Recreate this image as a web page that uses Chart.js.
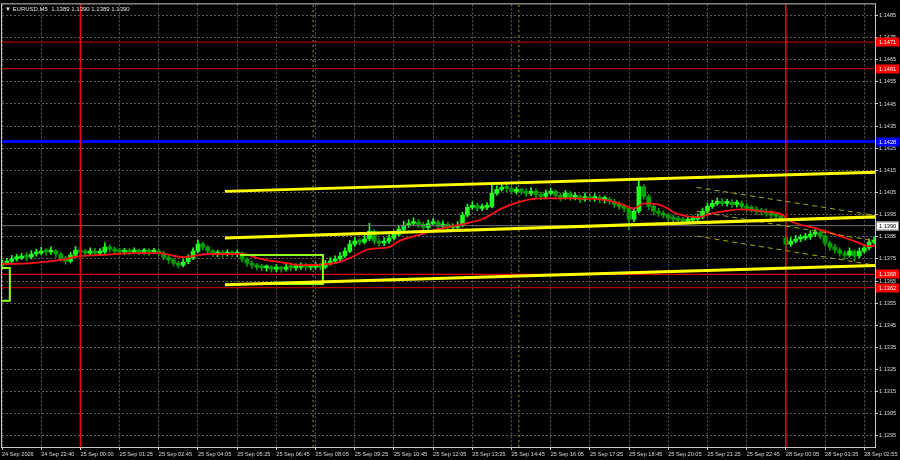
<!DOCTYPE html>
<html>
<head>
<meta charset="utf-8">
<script src="https://cdn.jsdelivr.net/npm/chart.js@4.4.1/dist/chart.umd.min.js"></script>
<style>
  html, body { margin: 0; padding: 0; background: #000; }
  #wrap { width: 900px; height: 460px; }
</style>
</head>
<body>
<div id="wrap"><canvas id="chart"></canvas></div>
<script>
// header line of the terminal window
const symbolTitle = '\u25BC EURUSD,M5  1.1389 1.1390 1.1389 1.1390';

// time axis (one slot = 10 min, a label every 8 slots)
const timeLabels = ['24 Sep 2026', '24 Sep 22:40', '25 Sep 00:00', '25 Sep 01:25', '25 Sep 02:45',
    '25 Sep 04:05', '25 Sep 05:25', '25 Sep 06:45', '25 Sep 08:05', '25 Sep 09:25', '25 Sep 10:45',
    '25 Sep 12:05', '25 Sep 13:25', '25 Sep 14:45', '25 Sep 16:05', '25 Sep 17:25', '25 Sep 18:45',
    '25 Sep 20:05', '25 Sep 21:25', '25 Sep 22:45', '28 Sep 00:05', '28 Sep 01:35', '28 Sep 02:55'];
const tickSlots = [0, 8, 16, 24, 32, 40, 48, 56, 64, 72, 80, 88, 96, 104, 112, 120, 128, 136, 144, 152, 160, 168, 176];

const priceTicks = [1.1295, 1.1305, 1.1315, 1.1325, 1.1335, 1.1345, 1.1355, 1.1365, 1.1375, 1.1385,
    1.1395, 1.1405, 1.1415, 1.1425, 1.1435, 1.1445, 1.1455, 1.1465, 1.1475, 1.1485];

// candles
const closes = [
    1.13731, 1.13740, 1.13750, 1.13754, 1.13763, 1.13758, 1.13772, 1.13776, 1.13785, 1.13781,
    1.13785, 1.13772, 1.13754, 1.13740, 1.13767, 1.13790, 1.13781, 1.13776, 1.13785, 1.13776,
    1.13781, 1.13803, 1.13794, 1.13785, 1.13781, 1.13785, 1.13781, 1.13785, 1.13781, 1.13785,
    1.13781, 1.13785, 1.13776, 1.13758, 1.13745, 1.13731, 1.13722, 1.13736, 1.13754, 1.13785,
    1.13817, 1.13803, 1.13785, 1.13772, 1.13776, 1.13772, 1.13776, 1.13772, 1.13776, 1.13749,
    1.13731, 1.13722, 1.13713, 1.13709, 1.13709, 1.13704, 1.13709, 1.13704, 1.13713, 1.13709,
    1.13713, 1.13718, 1.13713, 1.13713, 1.13718, 1.13713, 1.13731, 1.13740, 1.13750, 1.13763,
    1.13785, 1.13817, 1.13830, 1.13826, 1.13840, 1.13875, 1.13830, 1.13821, 1.13830, 1.13844,
    1.13861, 1.13883, 1.13901, 1.13910, 1.13915, 1.13906, 1.13892, 1.13910, 1.13915, 1.13898,
    1.13906, 1.13892, 1.13892, 1.13901, 1.13947, 1.13983, 1.13992, 1.13978, 1.13983, 1.13987,
    1.14046, 1.14064, 1.14073, 1.14068, 1.14055, 1.14059, 1.14055, 1.14046, 1.14055, 1.14041,
    1.14032, 1.14046, 1.14055, 1.14037, 1.14028, 1.14046, 1.14028, 1.14032, 1.14019, 1.14032,
    1.14023, 1.14028, 1.14019, 1.14019, 1.14010, 1.13996, 1.13987, 1.13978, 1.13929, 1.13965,
    1.14077, 1.14032, 1.13987, 1.13965, 1.13956, 1.13947, 1.13934, 1.13929, 1.13925, 1.13920,
    1.13925, 1.13929, 1.13938, 1.13965, 1.13987, 1.14001, 1.14010, 1.14001, 1.14005, 1.13996,
    1.14001, 1.13987, 1.13978, 1.13974, 1.13965, 1.13961, 1.13956, 1.13947, 1.13943, 1.13934,
    1.13815, 1.13830, 1.13840, 1.13844, 1.13849, 1.13862, 1.13866, 1.13853, 1.13821, 1.13803,
    1.13790, 1.13776, 1.13767, 1.13785, 1.13763, 1.13785, 1.13799, 1.13826, 1.13835
];
const highs = [
    1.13745, 1.13752, 1.13766, 1.13770, 1.13775, 1.13778, 1.13788, 1.13794, 1.13802, 1.13796,
    1.13804, 1.13792, 1.13780, 1.13762, 1.13780, 1.13806, 1.13802, 1.13794, 1.13800, 1.13798,
    1.13796, 1.13822, 1.13814, 1.13804, 1.13798, 1.13798, 1.13796, 1.13800, 1.13794, 1.13798,
    1.13796, 1.13798, 1.13794, 1.13784, 1.13766, 1.13752, 1.13740, 1.13748, 1.13768, 1.13800,
    1.13836, 1.13826, 1.13810, 1.13792, 1.13790, 1.13788, 1.13792, 1.13786, 1.13790, 1.13782,
    1.13756, 1.13740, 1.13730, 1.13726, 1.13722, 1.13720, 1.13724, 1.13718, 1.13728, 1.13724,
    1.13728, 1.13732, 1.13730, 1.13726, 1.13734, 1.13730, 1.13744, 1.13756, 1.13764, 1.13778,
    1.13800, 1.13834, 1.13846, 1.13842, 1.13856, 1.13911, 1.13882, 1.13842, 1.13846, 1.13860,
    1.13878, 1.13900, 1.13920, 1.13928, 1.13936, 1.13928, 1.13916, 1.13926, 1.13932, 1.13924,
    1.13922, 1.13916, 1.13908, 1.13918, 1.13960, 1.13998, 1.14008, 1.14002, 1.13998, 1.14004,
    1.14086, 1.14080, 1.14095, 1.14088, 1.14078, 1.14074, 1.14070, 1.14068, 1.14072, 1.14066,
    1.14052, 1.14062, 1.14070, 1.14062, 1.14048, 1.14060, 1.14054, 1.14048, 1.14040, 1.14048,
    1.14042, 1.14044, 1.14038, 1.14034, 1.14030, 1.14020, 1.14008, 1.13998, 1.13986, 1.13980,
    1.14113, 1.14086, 1.14040, 1.13996, 1.13978, 1.13968, 1.13956, 1.13948, 1.13942, 1.13938,
    1.13940, 1.13944, 1.13954, 1.13980, 1.14002, 1.14015, 1.14026, 1.14022, 1.14020, 1.14018,
    1.14016, 1.14012, 1.14000, 1.13992, 1.13986, 1.13978, 1.13976, 1.13968, 1.13960, 1.13954,
    1.13854, 1.13846, 1.13856, 1.13860, 1.13866, 1.13878, 1.13882, 1.13876, 1.13860, 1.13830,
    1.13816, 1.13800, 1.13786, 1.13800, 1.13792, 1.13800, 1.13814, 1.13840, 1.13850
];
const lows = [
    1.13710, 1.13724, 1.13732, 1.13740, 1.13746, 1.13742, 1.13750, 1.13762, 1.13768, 1.13766,
    1.13770, 1.13758, 1.13740, 1.13726, 1.13732, 1.13758, 1.13766, 1.13762, 1.13766, 1.13764,
    1.13766, 1.13772, 1.13780, 1.13772, 1.13768, 1.13770, 1.13768, 1.13772, 1.13768, 1.13770,
    1.13766, 1.13772, 1.13764, 1.13746, 1.13730, 1.13718, 1.13708, 1.13714, 1.13728, 1.13746,
    1.13778, 1.13790, 1.13772, 1.13760, 1.13760, 1.13758, 1.13762, 1.13758, 1.13760, 1.13736,
    1.13716, 1.13708, 1.13700, 1.13696, 1.13694, 1.13690, 1.13692, 1.13690, 1.13694, 1.13696,
    1.13698, 1.13702, 1.13700, 1.13700, 1.13704, 1.13700, 1.13706, 1.13722, 1.13730, 1.13742,
    1.13756, 1.13778, 1.13806, 1.13812, 1.13818, 1.13832, 1.13818, 1.13806, 1.13810, 1.13820,
    1.13836, 1.13854, 1.13876, 1.13892, 1.13900, 1.13892, 1.13878, 1.13884, 1.13900, 1.13884,
    1.13888, 1.13878, 1.13878, 1.13884, 1.13894, 1.13940, 1.13974, 1.13966, 1.13968, 1.13972,
    1.13980, 1.14038, 1.14056, 1.14054, 1.14042, 1.14042, 1.14040, 1.14032, 1.14036, 1.14026,
    1.14018, 1.14024, 1.14038, 1.14024, 1.14012, 1.14020, 1.14014, 1.14016, 1.14004, 1.14010,
    1.14008, 1.14010, 1.14004, 1.14002, 1.13996, 1.13982, 1.13974, 1.13962, 1.13880, 1.13918,
    1.13958, 1.14020, 1.13974, 1.13950, 1.13942, 1.13934, 1.13920, 1.13916, 1.13910, 1.13906,
    1.13908, 1.13912, 1.13920, 1.13930, 1.13958, 1.13978, 1.13992, 1.13988, 1.13988, 1.13982,
    1.13984, 1.13974, 1.13964, 1.13960, 1.13952, 1.13948, 1.13942, 1.13934, 1.13930, 1.13920,
    1.13794, 1.13806, 1.13822, 1.13828, 1.13834, 1.13838, 1.13850, 1.13840, 1.13808, 1.13788,
    1.13776, 1.13762, 1.13749, 1.13758, 1.13740, 1.13754, 1.13776, 1.13790, 1.13818
];
const firstOpen = 1.13722;
const weekendSlot = 160;
const mondayOpen = 1.13845;

// red moving average
const maSlots = [0, 6, 12, 16, 20, 27, 32, 37, 39, 42, 49, 53, 58, 61, 68, 71, 75, 79, 81, 85,
    89, 94, 98, 100, 102, 106, 110, 115, 122, 126, 129, 131, 134, 138, 142, 145, 151, 155, 159, 161,
    166, 170, 174, 177, 179];
const maValues = [1.13727, 1.13731, 1.13745, 1.13763, 1.13767, 1.13776, 1.13776, 1.13758, 1.13763, 1.13772,
    1.13772, 1.13749, 1.13731, 1.13722, 1.13731, 1.13754, 1.13794, 1.13803, 1.13830, 1.13857,
    1.13884, 1.13907, 1.13929, 1.13952, 1.13978, 1.14010, 1.14023, 1.14023, 1.14019, 1.14001,
    1.13978, 1.14001, 1.13996, 1.13952, 1.13938, 1.13956, 1.13974, 1.13965, 1.13952, 1.13920,
    1.13889, 1.13862, 1.13830, 1.13808, 1.13812];

// yellow rising channel
const channelSlots = [45.5, 178.5];
const channelUpper = [1.14055, 1.14142];
const channelMiddle = [1.13844, 1.13940];
const channelLower = [1.13633, 1.13720];

// dashed falling channel
const dashSlots = [141.8, 178.6];
const dashUpper = [1.14073, 1.13945];
const dashMiddle = [1.13965, 1.13830];
const dashLower = [1.13853, 1.13720];

// green boxes
const boxASlots = [-3, 1.6];
const boxAPrices = [1.13561, 1.13709];
const boxBSlots = [48.6, 65.5];
const boxBPrices = [1.13637, 1.13767];

// horizontal levels with their axis labels
const levelPrices = [1.14729, 1.1461, 1.1428, 1.1368, 1.1362];
const levelLabels = ['1.1471', '1.1461', '1.1428', '1.1368', '1.1362'];
const levelColors = ['#b00000', '#b00000', '#0000ff', '#e00000', '#b00000'];
const levelBoxColors = ['#ff0000', '#ff0000', '#0000ff', '#ff0000', '#ff0000'];

const daySeparators = [16, 160];
const markerSlots = [63.5, 105.5];
const bidPrice = 1.1390;

const X_MIN = 0, X_MAX = 178.2, Y_MIN = 1.1290, Y_MAX = 1.1490;
const FONT_FAMILY = '"Liberation Sans", "DejaVu Sans", sans-serif';

const opens = closes.map((c, i) => i === 0 ? firstOpen : (i === weekendSlot ? mondayOpen : closes[i - 1]));
const bull = '#1cff1c', bear = '#00a400';
const candleColors = closes.map((c, i) => c >= opens[i] ? bull : bear);

const segment = (slots, prices, color, width, dash, extra) => Object.assign({
    type: 'line',
    data: [{ x: slots[0], y: prices[0] }, { x: slots[1], y: prices[1] }],
    borderColor: color, borderWidth: width, borderDash: dash || [],
    pointRadius: 0, fill: false, order: 1, clip: 0
}, extra || {});

const boxLine = (slots, prices) => ({
    type: 'line',
    data: [{ x: slots[0], y: prices[1] }, { x: slots[1], y: prices[1] }, { x: slots[1], y: prices[0] },
           { x: slots[0], y: prices[0] }],
    borderColor: '#90ff20', borderWidth: 2, pointRadius: 0, fill: false, order: 2, clip: 0
});

const datasets = [
    { type: 'bar', data: closes.map((c, i) => ({ x: i, y: [lows[i], highs[i]] })), backgroundColor: candleColors,
      barThickness: 1, grouped: false, order: 11 },
    { type: 'bar', data: closes.map((c, i) => ({ x: i, y: [opens[i], c] })), backgroundColor: candleColors,
      barThickness: 4, minBarLength: 2, grouped: false, order: 10 },
    { type: 'line', data: maSlots.map((s, i) => ({ x: s, y: maValues[i] })), borderColor: '#ff1010',
      borderWidth: 1.8, pointRadius: 0, fill: false, cubicInterpolationMode: 'monotone', order: 3, clip: 0 },
    segment([X_MIN, X_MAX], [bidPrice, bidPrice], '#707070', 1, [], { order: 9 }),
    boxLine(boxASlots, boxAPrices),
    boxLine(boxBSlots, boxBPrices),
    segment(channelSlots, channelUpper, '#ffff00', 3),
    segment(channelSlots, channelMiddle, '#ffff00', 3),
    segment(channelSlots, channelLower, '#ffff00', 3),
    segment(dashSlots, dashUpper, '#a8a800', 1, [5, 4]),
    segment(dashSlots, dashMiddle, '#a8a800', 1, [5, 4]),
    segment(dashSlots, dashLower, '#a8a800', 1, [5, 4])
];
levelPrices.forEach((p, i) => {
    datasets.push(segment([X_MIN, X_MAX], [p, p], levelColors[i], levelColors[i] === '#0000ff' ? 3 : 1.2, [], { order: 4 }));
});
daySeparators.forEach(s => datasets.push(segment([s, s], [Y_MIN, Y_MAX], '#ff0000', 1.5, [], { order: 1 })));
markerSlots.forEach(s => datasets.push(segment([s, s], [Y_MIN, Y_MAX], '#8aa020', 1, [2, 3], { order: 12 })));

const terminalDecor = {
    id: 'terminalDecor',
    afterDraw(chart) {
        const { ctx, chartArea: a, scales: { y } } = chart;
        ctx.save();
        ctx.strokeStyle = '#c8c8c8';
        ctx.lineWidth = 1;
        ctx.strokeRect(a.left - 0.5, a.top - 0.5, a.right - a.left + 1, a.bottom - a.top + 1);

        ctx.font = '5.6px ' + FONT_FAMILY;
        ctx.textBaseline = 'middle';
        const drawTag = (price, text, fill, color, stroke) => {
            const py = Math.round(y.getPixelForValue(price));
            ctx.fillStyle = fill;
            ctx.fillRect(a.right + 1, py - 4.5, 23, 9);
            if (stroke) {
                ctx.strokeStyle = stroke;
                ctx.strokeRect(a.right + 1.5, py - 4, 22, 8);
            }
            ctx.fillStyle = color;
            ctx.fillText(text, a.right + 4, py + 0.5);
        };
        levelPrices.forEach((p, i) => drawTag(p, levelLabels[i], levelBoxColors[i], '#ffffff'));
        drawTag(bidPrice, bidPrice.toFixed(4), '#ffffff', '#000000', '#808080');

        ctx.font = '6px ' + FONT_FAMILY;
        ctx.fillStyle = '#e0e0e0';
        ctx.fillText(symbolTitle, a.left + 3, a.top + 5);
        ctx.restore();
    }
};

const gridCommon = {
    color: '#5a5a5a', lineWidth: 1, drawTicks: true, tickLength: 3,
    tickColor: '#c8c8c8', tickBorderDash: [], offset: false
};
const tickFont = { size: 5.6, family: FONT_FAMILY };

new Chart(document.getElementById('chart'), {
    type: 'bar',
    data: { datasets },
    options: {
        animation: false,
        responsive: true,
        maintainAspectRatio: false,
        layout: { padding: { left: 2, top: 2, right: 0, bottom: 0 } },
        plugins: { legend: { display: false }, tooltip: { enabled: false } },
        scales: {
            x: {
                type: 'linear', min: X_MIN, max: X_MAX, offset: false,
                afterBuildTicks: s => { s.ticks = tickSlots.map(v => ({ value: v })); },
                afterFit: s => { s.height = 13; },
                ticks: {
                    autoSkip: false, maxRotation: 0, align: 'start', padding: 1, color: '#d8d8d8', font: tickFont,
                    callback: v => timeLabels[tickSlots.indexOf(v)] || ''
                },
                grid: gridCommon,
                border: { display: false, dash: [2, 2] }
            },
            y: {
                position: 'right', min: Y_MIN, max: Y_MAX, beginAtZero: false,
                afterBuildTicks: s => { s.ticks = priceTicks.map(v => ({ value: v })); },
                afterFit: s => { s.width = 25; },
                ticks: { padding: 1, color: '#d8d8d8', font: tickFont, callback: v => v.toFixed(4) },
                grid: gridCommon,
                border: { display: false, dash: [2, 2] }
            }
        }
    },
    plugins: [terminalDecor]
});
</script>
</body>
</html>
